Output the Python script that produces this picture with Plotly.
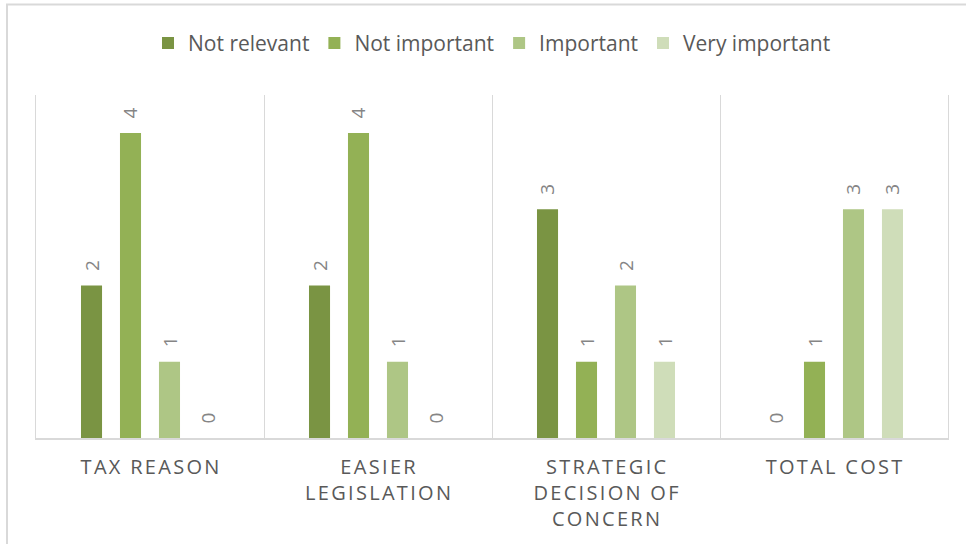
import plotly.graph_objects as go

# Survey answers: how relevant each factor was, counted by rating
categories = ["TAX REASON", "EASIER<br>LEGISLATION", "STRATEGIC<br>DECISION OF<br>CONCERN", "TOTAL COST"]
ratings = ["Not relevant", "Not important", "Important", "Very important"]
not_relevant = [2, 2, 3, 0]
not_important = [4, 4, 1, 1]
important = [1, 1, 2, 3]
very_important = [0, 0, 1, 3]

series = [not_relevant, not_important, important, very_important]
colors = ["#7a9443", "#93b155", "#aec685", "#cfddb9"]

FONT = "Open Sans, Lato, Liberation Sans, sans-serif"
BARGAP = 0.316
PLOT_W = 966 - 36 - 18
SLOT_PX = PLOT_W / len(categories) * (1 - BARGAP) / len(ratings)

fig = go.Figure()
for j, (name, vals, col) in enumerate(zip(ratings, series, colors)):
    fig.add_trace(go.Bar(
        x=categories, y=vals, name=name,
        marker=dict(color=col, line=dict(width=0)),
    ))
    # rotated value labels above each bar
    for cat, v in zip(categories, vals):
        fig.add_annotation(
            x=cat, y=v, text=str(v), showarrow=False, textangle=-90,
            xanchor="center", yanchor="middle",
            xshift=(j - (len(ratings) - 1) / 2) * SLOT_PX, yshift=20,
            font=dict(family=FONT, size=19, color="#858585"),
        )

# light outer frame of the chart area
fig.add_shape(type="rect", xref="paper", yref="paper",
              x0=-29 / PLOT_W, x1=1.06, y0=-0.4, y1=(440 - 4) / 345,
              line=dict(color="#d9d9d9", width=2), fillcolor="rgba(0,0,0,0)", layer="below")

fig.update_layout(
    width=966, height=544,
    margin=dict(l=36, r=18, t=95, b=104),
    paper_bgcolor="white", plot_bgcolor="white",
    barmode="group", bargap=BARGAP, bargroupgap=0.46,
    font=dict(family=FONT, color="#595959"),
    showlegend=True,
    legend=dict(orientation="h", x=0.5, xanchor="center", y=(440 - 43) / 345, yanchor="middle",
                font=dict(family=FONT, size=21, color="#595959"),
                traceorder="normal", itemclick=False),
    xaxis=dict(
        showline=True, linecolor="#d9d9d9", linewidth=1.5,
        showgrid=True, gridcolor="#d9d9d9", gridwidth=1, tickson="boundaries",
        ticks="", ticklabelstandoff=10,
        tickfont=dict(family=FONT, size=20, color="#595959"),
        fixedrange=True,
    ),
    yaxis=dict(
        range=[0, 4.5], showgrid=False, zeroline=False, showticklabels=False,
        showline=True, mirror=True, linecolor="#d9d9d9", linewidth=1, ticks="",
        fixedrange=True,
    ),
)

# spaced-out capitals for the category labels
post = """
document.querySelectorAll('.xtick text').forEach(function(t){
  t.style.letterSpacing = '2.3px';
  t.setAttribute('transform', (t.getAttribute('transform')||'') + ' translate(1.15,0)');
});
"""

fig.write_html("out.html", post_script=post, config={"displayModeBar": False})
